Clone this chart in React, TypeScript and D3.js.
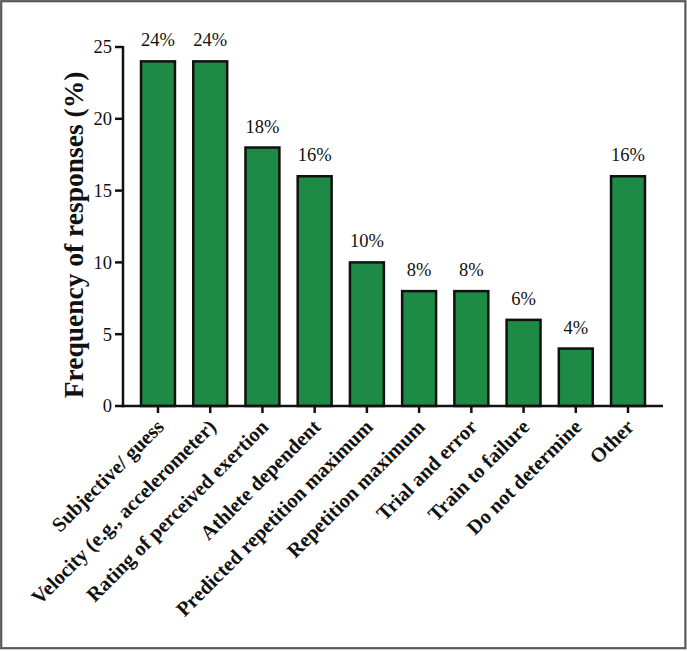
import React, { useRef, useEffect } from 'react';
import * as d3 from 'd3';

const categories = [
  'Subjective/ guess',
  'Velocity (e.g., accelerometer)',
  'Rating of perceived exertion',
  'Athlete dependent',
  'Predicted repetition maximum',
  'Repetition maximum',
  'Trial and error',
  'Train to failure',
  'Do not determine',
  'Other',
];
const values = [24, 24, 18, 16, 10, 8, 8, 6, 4, 16];
const yTicks = [0, 5, 10, 15, 20, 25];

const W = 687;
const H = 651;
const FONT = "'Times New Roman', Times, 'Liberation Serif', serif";

const App = () => {
  const svgRef = useRef<SVGSVGElement | null>(null);

  useEffect(() => {
    document.body.style.margin = '0';
    if (!svgRef.current) return;
    const svg = d3.select(svgRef.current);
    svg.selectAll('*').remove();

    // outer frame
    svg.append('rect')
      .attr('x', 1.2).attr('y', 1.2)
      .attr('width', W - 2.8).attr('height', H - 4)
      .attr('fill', '#fff')
      .attr('stroke', '#585858')
      .attr('stroke-width', 2.2);

    const x0 = 123, x1 = 663, yTop = 47, yZero = 406;

    const x = d3.scalePoint<string>()
      .domain(categories)
      .range([x0, x1])
      .padding(0.67);
    const barW = x.step() * 0.65;

    const y = d3.scaleLinear().domain([0, 25]).range([yZero, yTop]);

    const g = svg.append('g').style('font-family', FONT);

    // bars
    g.selectAll('.bar')
      .data(values)
      .enter()
      .append('rect')
      .attr('x', (d, i) => (x(categories[i]) as number) - barW / 2)
      .attr('y', d => y(d))
      .attr('width', barW)
      .attr('height', d => yZero - y(d))
      .attr('fill', '#1d8a45')
      .attr('stroke', '#111')
      .attr('stroke-width', 2.5);

    // value labels
    g.selectAll('.val')
      .data(values)
      .enter()
      .append('text')
      .attr('x', (d, i) => x(categories[i]) as number)
      .attr('y', d => y(d) - 15)
      .attr('text-anchor', 'middle')
      .attr('font-size', 18.5)
      .attr('fill', '#111')
      .text(d => `${d}%`);

    // y axis
    g.append('line')
      .attr('x1', x0).attr('x2', x0)
      .attr('y1', yTop - 1).attr('y2', yZero + 1.2)
      .attr('stroke', '#111').attr('stroke-width', 2.5);
    yTicks.forEach(t => {
      g.append('line')
        .attr('x1', x0 - 8).attr('x2', x0)
        .attr('y1', y(t)).attr('y2', y(t))
        .attr('stroke', '#111').attr('stroke-width', 2.5);
      g.append('text')
        .attr('x', x0 - 11)
        .attr('y', y(t))
        .attr('dy', '0.35em')
        .attr('text-anchor', 'end')
        .attr('font-size', 18.5)
        .attr('fill', '#111')
        .text(t);
    });

    // x axis
    g.append('line')
      .attr('x1', x0 - 1.2).attr('x2', x1)
      .attr('y1', yZero).attr('y2', yZero)
      .attr('stroke', '#111').attr('stroke-width', 2.5);
    categories.forEach(c => {
      const cx = x(c) as number;
      g.append('line')
        .attr('x1', cx).attr('x2', cx)
        .attr('y1', yZero).attr('y2', yZero + 7)
        .attr('stroke', '#111').attr('stroke-width', 2.5);
      g.append('text')
        .attr('transform', `translate(${cx + 2},${yZero + 17}) rotate(-45)`)
        .attr('text-anchor', 'end')
        .attr('dy', '0.35em')
        .attr('font-weight', 'bold')
        .attr('font-size', 20.5)
        .attr('fill', '#111')
        .text(c);
    });

    // y title
    g.append('text')
      .attr('transform', `translate(83,235) rotate(-90)`)
      .attr('text-anchor', 'middle')
      .attr('font-weight', 'bold')
      .attr('font-size', 27.5)
      .attr('fill', '#111')
      .text('Frequency of responses (%)');
  }, []);

  return <svg ref={svgRef} width={W} height={H} style={{ display: 'block' }} />;
};

export default App;
